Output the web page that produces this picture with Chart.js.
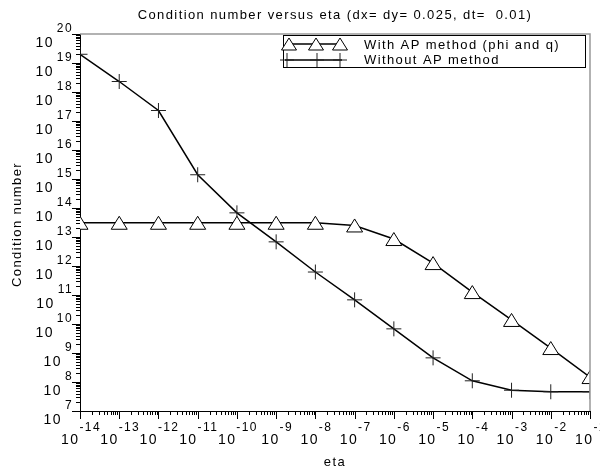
<!DOCTYPE html>
<html>
<head>
<meta charset="utf-8">
<script src="https://cdn.jsdelivr.net/npm/chart.js@4.4.0/dist/chart.umd.min.js"></script>
<style>
  html, body { margin: 0; padding: 0; background: #fff; }
</style>
</head>
<body>
<canvas id="chart" width="600" height="473"></canvas>
<script>
// eta on x (log), condition number on y (log)
const etaValues = [1e-14, 1e-13, 1e-12, 1e-11, 1e-10, 1e-9, 1e-8, 1e-7, 1e-6, 1e-5, 1e-4, 1e-3, 1e-2, 1e-1];
const withAP = [3.1e13, 3.1e13, 3.1e13, 3.1e13, 3.1e13, 3.1e13, 3.1e13, 2.5e13, 8.5e12, 1.26e12, 1.26e11, 1.38e10, 1.48e9, 1.48e8];
const withoutAP = [2.0e19, 2.3e18, 2.3e17, 1.4e15, 6.8e13, 6.8e12, 6.2e11, 6.8e10, 6.8e9, 6.8e8, 1.1e8, 5.2e7, 4.6e7, 4.6e7];
const xTickExps = [-14, -13, -12, -11, -10, -9, -8, -7, -6, -5, -4, -3, -2, -1];
const yTickExps = [7, 8, 9, 10, 11, 12, 13, 14, 15, 16, 17, 18, 19, 20];
const seriesLabels = ['With AP method (phi and q)', 'Without AP method'];
const titleText = 'Condition number versus eta (dx= dy= 0.025, dt=  0.01)';
const xTitle = 'eta';
const yTitle = 'Condition number';

const FONT = '"Liberation Sans", Arial, sans-serif';

function drawCross(ctx, x, y, r) {
    ctx.beginPath();
    ctx.moveTo(x - r, y);
    ctx.lineTo(x + r, y);
    ctx.moveTo(x, y - r);
    ctx.lineTo(x, y + r);
    ctx.stroke();
}

// open triangle whose box is centred on (x, y)
function drawTri(ctx, x, y, w, h) {
    ctx.beginPath();
    ctx.moveTo(x, y - h / 2);
    ctx.lineTo(x + w / 2, y + h / 2);
    ctx.lineTo(x - w / 2, y + h / 2);
    ctx.closePath();
    ctx.fill();
    ctx.stroke();
}

// triangles sit on the points chart.js placed for the "with AP" dataset
const triPlugin = {
    id: 'triMarks',
    afterDatasetsDraw(chart) {
        const ctx = chart.ctx;
        const area = chart.chartArea;
        const meta = chart.getDatasetMeta(1);
        ctx.save();
        ctx.beginPath();
        ctx.rect(area.left, area.top, area.right - area.left, area.bottom - area.top);
        ctx.clip();
        ctx.fillStyle = '#fff';
        ctx.strokeStyle = '#000';
        ctx.lineWidth = 1;
        meta.data.forEach(pt => drawTri(ctx, pt.x, pt.y, 16, 13));
        ctx.restore();
    }
};

const axesPlugin = {
    id: 'axesText',
    afterDraw(chart) {
        const ctx = chart.ctx;
        const xs = chart.scales.x;
        const ys = chart.scales.y;
        const area = chart.chartArea;
        ctx.save();
        ctx.letterSpacing = '1.4px';

        // grey top and right frame
        ctx.strokeStyle = '#999';
        ctx.lineWidth = 1.5;
        ctx.beginPath();
        ctx.moveTo(area.left, area.top);
        ctx.lineTo(area.right, area.top);
        ctx.lineTo(area.right, area.bottom);
        ctx.stroke();

        // ticks
        ctx.strokeStyle = '#000';
        ctx.lineWidth = 1;
        ctx.beginPath();
        yTickExps.forEach((e, i) => {
            const p = Math.round(ys.getPixelForValue(Math.pow(10, e))) + 0.5;
            ctx.moveTo(area.left - 8, p);
            ctx.lineTo(area.left, p);
            if (i < yTickExps.length - 1) {
                for (let k = 2; k <= 9; k++) {
                    const q = Math.round(ys.getPixelForValue(k * Math.pow(10, e))) + 0.5;
                    ctx.moveTo(area.left - 4, q);
                    ctx.lineTo(area.left, q);
                }
            }
        });
        xTickExps.forEach((e, i) => {
            const p = Math.round(xs.getPixelForValue(Math.pow(10, e))) + 0.5;
            ctx.moveTo(p, area.bottom);
            ctx.lineTo(p, area.bottom + 8);
            if (i < xTickExps.length - 1) {
                for (let k = 2; k <= 9; k++) {
                    const q = Math.round(xs.getPixelForValue(k * Math.pow(10, e))) + 0.5;
                    ctx.moveTo(q, area.bottom);
                    ctx.lineTo(q, area.bottom + 4);
                }
            }
        });
        ctx.stroke();

        // tick labels: 10 with raised exponent
        ctx.fillStyle = '#000';
        ctx.textBaseline = 'middle';
        const baseFont = '14px ' + FONT;
        const expFont = '12px ' + FONT;
        yTickExps.forEach(e => {
            const p = ys.getPixelForValue(Math.pow(10, e));
            ctx.textAlign = 'right';
            ctx.font = expFont;
            const ex = String(e);
            const we = ctx.measureText(ex).width;
            ctx.fillText(ex, area.left - 7, p - 5);
            ctx.font = baseFont;
            ctx.fillText('10', area.left - 8 - we - 2, p + 9);
        });
        xTickExps.forEach(e => {
            const p = xs.getPixelForValue(Math.pow(10, e));
            const ex = String(e);
            ctx.font = expFont;
            const we = ctx.measureText(ex).width;
            ctx.font = baseFont;
            const wb = ctx.measureText('10').width;
            const start = p + 1 - (wb + we) / 2;
            ctx.textAlign = 'left';
            ctx.fillText('10', start, area.bottom + 29);
            ctx.font = expFont;
            ctx.fillText(ex, start + wb, area.bottom + 17);
        });

        // titles
        const cx = (area.left + area.right) / 2;
        ctx.textAlign = 'center';
        ctx.font = '13px ' + FONT;
        ctx.fillText(titleText, cx, 15);
        ctx.fillText(xTitle, cx, area.bottom + 51);
        ctx.save();
        ctx.translate(17, (area.top + area.bottom) / 2 + 2);
        ctx.rotate(-Math.PI / 2);
        ctx.fillText(yTitle, 0, 0);
        ctx.restore();

        // legend
        const bx = 283, by = 35, bw = 302, bh = 32;
        ctx.fillStyle = '#fff';
        ctx.fillRect(bx, by, bw, bh);
        ctx.strokeStyle = '#000';
        ctx.lineWidth = 1;
        ctx.strokeRect(bx + 0.5, by + 0.5, bw, bh);
        const rows = [by + 9, by + 25];
        ctx.lineWidth = 1.5;
        rows.forEach(ry => {
            ctx.beginPath();
            ctx.moveTo(285, ry);
            ctx.lineTo(342, ry);
            ctx.stroke();
        });
        ctx.lineWidth = 1;
        ctx.fillStyle = '#fff';
        [289, 316, 340].forEach(mx => drawTri(ctx, mx, rows[0], 15, 12));
        ctx.strokeStyle = '#222';
        [287, 317, 340].forEach(mx => drawCross(ctx, mx, rows[1], 7));
        ctx.fillStyle = '#000';
        ctx.textAlign = 'left';
        ctx.font = '13px ' + FONT;
        ctx.fillText(seriesLabels[0], 364, rows[0] + 1);
        ctx.fillText(seriesLabels[1], 364, rows[1]);
        ctx.restore();
    }
};

new Chart(document.getElementById('chart'), {
    type: 'line',
    data: {
        labels: etaValues,
        datasets: [
            {
                label: seriesLabels[1],
                data: etaValues.map((x, i) => ({ x: x, y: withoutAP[i] })),
                borderColor: '#000',
                borderWidth: 1.5,
                pointStyle: 'cross',
                pointRadius: 7.5,
                pointBorderWidth: 1,
                pointBorderColor: '#222',
                tension: 0,
                clip: 0
            },
            {
                label: seriesLabels[0],
                data: etaValues.map((x, i) => ({ x: x, y: withAP[i] })),
                borderColor: '#000',
                borderWidth: 1.5,
                pointStyle: 'triangle',
                pointRadius: 0,
                tension: 0,
                clip: 0
            }
        ]
    },
    options: {
        responsive: false,
        animation: false,
        events: [],
        layout: { padding: { left: 80, top: 34, right: 10, bottom: 62 } },
        plugins: {
            legend: { display: false },
            title: { display: false },
            tooltip: { enabled: false }
        },
        scales: {
            x: {
                type: 'logarithmic',
                min: 1e-14,
                max: 1e-1,
                grid: { display: false, drawTicks: false },
                border: { display: true, color: '#000', width: 1 },
                ticks: { display: false }
            },
            y: {
                type: 'logarithmic',
                min: 1e7,
                max: 1e20,
                grid: { display: false, drawTicks: false },
                border: { display: true, color: '#000', width: 1 },
                ticks: { display: false }
            }
        }
    },
    plugins: [triPlugin, axesPlugin]
});
</script>
</body>
</html>
